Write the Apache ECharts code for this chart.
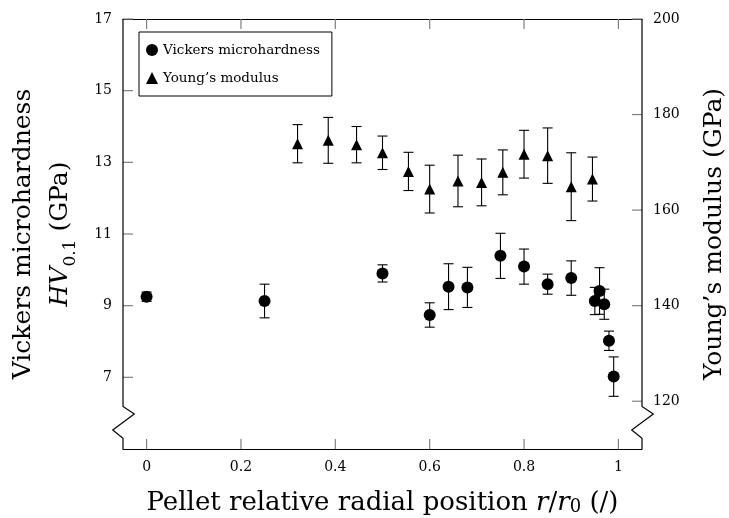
<!DOCTYPE html>
<html>
<head>
<meta charset="utf-8">
<title>Vickers microhardness and Young's modulus</title>
<script src="https://cdn.jsdelivr.net/npm/echarts@6/dist/echarts.min.js"></script>
<style>
  html, body { margin: 0; padding: 0; background: #fff; }
  #chart { width: 729px; height: 518px; }
</style>
</head>
<body>
<div id="chart"></div>
<script>
// Tick positions
const xTicks = [0, 0.2, 0.4, 0.6, 0.8, 1];
const hvTicks = [7, 9, 11, 13, 15, 17];
const eTicks = [120, 140, 160, 180, 200];

// Vickers microhardness HV0.1 (GPa): radial position, mean, error
const hvR    = [0, 0.25, 0.5, 0.6, 0.64, 0.68, 0.75, 0.8, 0.85, 0.9, 0.95, 0.96, 0.97, 0.98, 0.99];
const hvMean = [9.25, 9.13, 9.9, 8.74, 9.53, 9.51, 10.39, 10.09, 9.6, 9.77, 9.13, 9.41, 9.04, 8.02, 7.02];
const hvErr  = [0.13, 0.47, 0.24, 0.34, 0.64, 0.56, 0.63, 0.49, 0.28, 0.48, 0.38, 0.65, 0.42, 0.27, 0.55];

// Young's modulus (GPa): radial position, mean, error
const eR    = [0.32, 0.385, 0.445, 0.5, 0.555, 0.6, 0.66, 0.71, 0.755, 0.8, 0.85, 0.9, 0.945];
const eMean = [173.9, 174.6, 173.7, 172.0, 168.1, 164.4, 166.1, 165.8, 167.9, 171.7, 171.4, 164.9, 166.5];
const eErr  = [4.0, 4.8, 3.8, 3.5, 4.0, 5.0, 5.4, 4.9, 4.7, 5.0, 5.8, 7.1, 4.6];

const W = 729, H = 518;
const GRID = { left: 123, right: 87, top: 19, bottom: 69 };
const FONT = 'DejaVu Serif';
const TICK_COLOR = '#808080';
const TICK_LEN = 10;

const hvData = hvR.map((r, i) => [r, hvMean[i], hvErr[i]]);
const eData = eR.map((r, i) => [r, eMean[i], eErr[i]]);

// Vertical error bar with caps
function errorBar(params, api) {
  const x = api.value(0), y = api.value(1), e = api.value(2);
  const hi = api.coord([x, y + e]);
  const lo = api.coord([x, y - e]);
  const cap = 5;
  const style = { stroke: '#000', lineWidth: 1.1 };
  return {
    type: 'group',
    children: [
      { type: 'line', shape: { x1: hi[0], y1: hi[1], x2: lo[0], y2: lo[1] }, style },
      { type: 'line', shape: { x1: hi[0] - cap, y1: hi[1], x2: hi[0] + cap, y2: hi[1] }, style },
      { type: 'line', shape: { x1: lo[0] - cap, y1: lo[1], x2: lo[0] + cap, y2: lo[1] }, style }
    ]
  };
}

// Axis lines of the value axes, with a break symbol near the bottom
const xL = GRID.left, xR = W - GRID.right, yT = GRID.top, yB = H - GRID.bottom;
function brokenAxis(x) {
  return [[x, yT], [x, yB - 42.5], [x + 11.3, yB - 35], [x - 10.3, yB - 19], [x, yB - 10.7], [x, yB]];
}

const tickLabel = { fontFamily: FONT, fontSize: 14, color: '#000' };

const option = {
  backgroundColor: '#fff',
  animation: false,
  grid: {
    left: GRID.left, right: GRID.right, top: GRID.top, bottom: GRID.bottom,
    containLabel: false, outerBoundsMode: 'none'
  },
  legend: {
    orient: 'vertical',
    left: 139, top: 32,
    padding: [11, 12, 11, 7],
    itemGap: 14,
    itemWidth: 12, itemHeight: 12,
    borderColor: '#000', borderWidth: 1,
    textStyle: { fontFamily: FONT, fontSize: 13.5, color: '#000' },
    data: ['Vickers microhardness', "Young\u2019s modulus"]
  },
  xAxis: [
    {
      type: 'value', min: -0.05, max: 1.05, position: 'bottom',
      axisLine: { show: true, onZero: false, lineStyle: { color: '#000', width: 1.2 } },
      axisTick: { show: false },
      axisLabel: { customValues: xTicks, margin: 11, ...tickLabel },
      splitLine: { show: false },
      name: 'Pellet relative radial position {it|r}/{it|r}{sub|0} (/)',
      nameLocation: 'middle', nameGap: 41,
      nameTextStyle: {
        fontFamily: FONT, fontSize: 26, color: '#000',
        rich: {
          it: { fontFamily: FONT, fontStyle: 'italic', fontSize: 26 },
          sub: { fontFamily: FONT, fontSize: 18, verticalAlign: 'bottom', lineHeight: 18 }
        }
      }
    },
    {
      type: 'value', min: -0.05, max: 1.05, position: 'top',
      axisLine: { show: true, onZero: false, lineStyle: { color: '#000', width: 1.2 } },
      axisTick: { show: false },
      axisLabel: { show: false },
      splitLine: { show: false }
    }
  ],
  yAxis: [
    {
      type: 'value', min: 5, max: 17, position: 'left',
      axisLine: { show: false, onZero: false },
      axisTick: { show: false },
      axisLabel: { customValues: hvTicks, margin: 11, ...tickLabel },
      splitLine: { show: false },
      name: 'Vickers microhardness\n{it|HV}{sub|0.1} (GPa)',
      nameLocation: 'middle', nameGap: 44, nameRotate: 90,
      nameTextStyle: {
        fontFamily: FONT, fontSize: 25, color: '#000', lineHeight: 37,
        rich: {
          it: { fontFamily: FONT, fontStyle: 'italic', fontSize: 25, lineHeight: 37 },
          sub: { fontFamily: FONT, fontSize: 17, verticalAlign: 'bottom', lineHeight: 30 }
        }
      }
    },
    {
      type: 'value', min: 110, max: 200, position: 'right',
      axisLine: { show: false, onZero: false },
      axisTick: { show: false },
      axisLabel: { customValues: eTicks, margin: 11, ...tickLabel },
      splitLine: { show: false },
      name: "Young\u2019s modulus (GPa)",
      nameLocation: 'middle', nameGap: 60, nameRotate: 90,
      nameTextStyle: { fontFamily: FONT, fontSize: 25, color: '#000' }
    }
  ],
  series: [
    {
      name: 'hv-error', type: 'custom', xAxisIndex: 0, yAxisIndex: 0,
      renderItem: errorBar, data: hvData, encode: { x: 0, y: [1] }, z: 2
    },
    {
      name: 'Vickers microhardness', type: 'scatter', xAxisIndex: 0, yAxisIndex: 0,
      symbol: 'circle', symbolSize: 12, itemStyle: { color: '#000', opacity: 1 },
      data: hvData, z: 3
    },
    {
      name: 'e-error', type: 'custom', xAxisIndex: 0, yAxisIndex: 1,
      renderItem: errorBar, data: eData, encode: { x: 0, y: [1] }, z: 2
    },
    {
      name: "Young\u2019s modulus", type: 'scatter', xAxisIndex: 0, yAxisIndex: 1,
      symbol: 'triangle', symbolSize: 11, itemStyle: { color: '#000', opacity: 1 },
      data: eData, z: 3
    }
  ]
};

const chart = echarts.init(document.getElementById('chart'), null, { renderer: 'canvas' });
chart.setOption(option);

// Inward ticks on all four sides plus the broken axis lines, positioned through the axis scales
const tickStyle = { stroke: TICK_COLOR, lineWidth: 1.2 };
const seg = (x1, y1, x2, y2) => ({ type: 'line', shape: { x1, y1, x2, y2 }, style: tickStyle, z: 9, silent: true });
const decorations = [
  { type: 'polyline', shape: { points: brokenAxis(xL) }, style: { stroke: '#000', lineWidth: 1.2, fill: null }, z: 10, silent: true },
  { type: 'polyline', shape: { points: brokenAxis(xR) }, style: { stroke: '#000', lineWidth: 1.2, fill: null }, z: 10, silent: true }
];
xTicks.forEach(v => {
  const px = chart.convertToPixel({ xAxisIndex: 0 }, v);
  decorations.push(seg(px, yB, px, yB - TICK_LEN));
  decorations.push(seg(px, yT, px, yT + TICK_LEN));
});
hvTicks.forEach(v => {
  const py = chart.convertToPixel({ yAxisIndex: 0 }, v);
  decorations.push(seg(xL, py, xL + TICK_LEN, py));
});
eTicks.forEach(v => {
  const py = chart.convertToPixel({ yAxisIndex: 1 }, v);
  decorations.push(seg(xR, py, xR - TICK_LEN, py));
});
chart.setOption({ graphic: decorations });
</script>
</body>
</html>
